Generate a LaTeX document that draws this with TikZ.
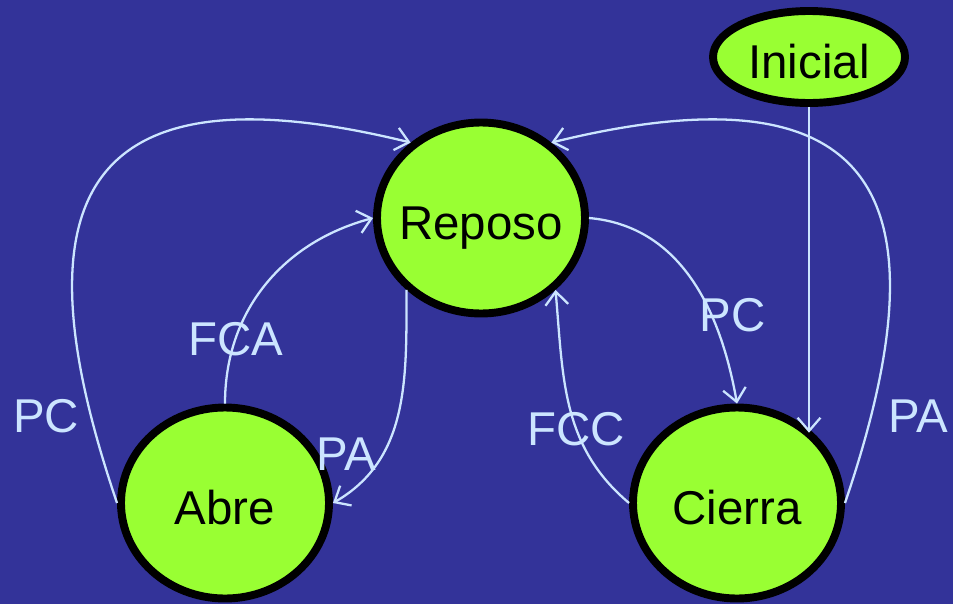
\documentclass[tikz,border=0pt]{standalone}
\usepackage{fontspec}
\setmainfont{Liberation Sans}
\usetikzlibrary{shapes.geometric, arrows.meta, positioning}
\definecolor{bgblue}{HTML}{333399}
\definecolor{lime}{HTML}{99FF33}
\definecolor{wire}{HTML}{CCE5FF}
\tikzset{
  estado/.style={ellipse, draw=black, line width=4.5pt, fill=lime,
                 inner xsep=-0.3cm, inner ysep=0pt,
                 text height=25pt, text depth=0pt,
                 font=\fontsize{27}{32}\selectfont},
  grande/.style={estado, minimum width=4.16cm, minimum height=3.82cm},
  trans/.style={-{Straight Barb[length=7.5pt,width=13pt]}, draw=wire, line width=1.3pt},
  lbl/.style={text=wire, inner sep=0pt, font=\fontsize{27}{32}\selectfont},
}

\begin{document}
\begin{tikzpicture}
  \fill[bgblue] (0,0) rectangle (19.06,12.08);
  \useasboundingbox (0,0) rectangle (19.06,12.08);

  \node[grande] (reposo) at (9.62,7.72) {Reposo};
  \node[grande] (abre)   at (4.50,2.02) {Abre};
  \node[grande] (cierra) at (14.74,2.02) {Cierra};
  \node[estado, minimum width=3.84cm, minimum height=1.84cm] (inicial) at (16.18,10.94) {Inicial};

  \draw[trans] (abre.west) .. controls +(-2.1,6.16) and +(-6.54,1.6) .. (reposo.133)
    node[lbl, pos=0.1, left=6pt] {PC};
  \draw[trans] (abre.north) to[out=90, in=195] node[lbl, pos=0.25] {FCA} (reposo.west);
  \draw[trans] (reposo.224) to[out=-90, in=30] node[lbl, pos=0.7, left=3pt] {PA} (abre.east);
  \draw[trans] (reposo.east) to[out=-5, in=100] node[lbl, pos=0.66, xshift=0.42cm] {PC} (cierra.north);
  \draw[trans] (cierra.west) to[out=140, in=-85] node[lbl, pos=0.4] {FCC} (reposo.316);
  \draw[trans] (cierra.east) .. controls +(2.1,6.16) and +(6.54,1.6) .. (reposo.47)
    node[lbl, pos=0.1, right=9pt] {PA};
  \draw[trans] (inicial.south) -- (inicial.south |- cierra.north east);
\end{tikzpicture}
\end{document}
